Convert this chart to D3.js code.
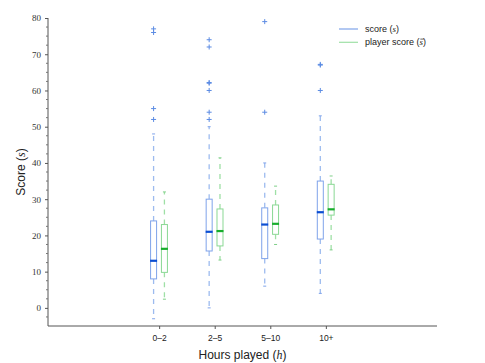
<!DOCTYPE html>
<html>
<head>
<meta charset="utf-8">
<script src="https://cdn.jsdelivr.net/npm/d3@7"></script>
<style>
  body { margin: 0; background: #fff; }
  svg { display: block; }
</style>
</head>
<body>
<div id="chart"></div>
<script>
// categories and box statistics
var categories = ["0\u20132", "2\u20135", "5\u201310", "10+"];
var catPos = [2, 3, 4, 5];

// score (s): [whiskerLow, q1, median, q3, whiskerHigh]
var scoreStats = [
  [-3, 8, 13, 24, 48],
  [0, 15.7, 21, 30, 50],
  [6, 13.6, 23, 27.6, 40],
  [4, 19, 26.4, 35, 53]
];
var scoreOutliers = [
  [77, 76, 55, 52],
  [74, 72, 62.2, 62, 60, 54, 52],
  [79, 54],
  [67.2, 67, 60]
];

// player score (s-bar)
var playerStats = [
  [2.4, 9.8, 16.3, 23, 32],
  [13.2, 17.1, 21.2, 27.3, 41.4],
  [17.5, 20.3, 23.2, 28.4, 33.6],
  [16, 25.6, 27.2, 34.1, 36.4]
];
var playerOutliers = [[], [], [], []];

var yMajorTicks = [0, 10, 20, 30, 40, 50, 60, 70, 80];

var width = 485, height = 363;
var margin = {top: 18, right: 48, bottom: 37, left: 48};
var w = width - margin.left - margin.right,
    h = height - margin.top - margin.bottom;

var svg = d3.select("#chart").append("svg")
    .attr("width", width)
    .attr("height", height);

var g = svg.append("g")
    .attr("transform", "translate(" + margin.left + "," + margin.top + ")");

var x = d3.scaleLinear().domain([0, 7]).range([0, w]);
var y = d3.scaleLinear().domain([-5, 80]).range([h, 0]);

var series = [
  {stats: scoreStats, outliers: scoreOutliers, offset: -0.1,
   box: "#7fa3ea", median: "#0b4ed2", whisker: "#9dbbef", cap: "#7fa3ea", flier: "#5b8be3"},
  {stats: playerStats, outliers: playerOutliers, offset: 0.095,
   box: "#8ad894", median: "#17ad2c", whisker: "#9fe0a6", cap: "#7fcf88", flier: "#5cc36a"}
];

var boxW = 6;

series.forEach(function(s) {
  s.stats.forEach(function(d, i) {
    var cx = x(catPos[i] + s.offset);
    var sg = g.append("g");

    // whiskers
    sg.append("line")
      .attr("x1", cx).attr("x2", cx)
      .attr("y1", y(d[3])).attr("y2", y(d[4]))
      .attr("stroke", s.whisker).attr("stroke-width", 1.3)
      .attr("stroke-dasharray", "5,5");
    sg.append("line")
      .attr("x1", cx).attr("x2", cx)
      .attr("y1", y(d[1])).attr("y2", y(d[0]))
      .attr("stroke", s.whisker).attr("stroke-width", 1.3)
      .attr("stroke-dasharray", "5,5");

    // caps
    [d[0], d[4]].forEach(function(v) {
      sg.append("line")
        .attr("x1", cx - 1.5).attr("x2", cx + 1.5)
        .attr("y1", y(v)).attr("y2", y(v))
        .attr("stroke", s.cap).attr("stroke-width", 1);
    });

    // box
    sg.append("rect")
      .attr("x", cx - boxW / 2)
      .attr("y", y(d[3]))
      .attr("width", boxW)
      .attr("height", y(d[1]) - y(d[3]))
      .attr("fill", "#fff")
      .attr("stroke", s.box).attr("stroke-width", 1);

    // median
    sg.append("line")
      .attr("x1", cx - boxW / 2 - 0.5).attr("x2", cx + boxW / 2 + 0.5)
      .attr("y1", y(d[2])).attr("y2", y(d[2]))
      .attr("stroke", s.median).attr("stroke-width", 2.2);

    // outliers as "+"
    s.outliers[i].forEach(function(v) {
      sg.append("path")
        .attr("d", "M" + (cx - 2.5) + "," + y(v) + "h5M" + cx + "," + (y(v) - 2.5) + "v5")
        .attr("stroke", s.flier).attr("stroke-width", 1).attr("fill", "none");
    });
  });
});

// y axis with minor ticks
var yAxis = d3.axisLeft(y).tickValues(yMajorTicks).tickSize(3).tickPadding(4);
var yG = g.append("g").call(yAxis);
yG.select(".domain").attr("d", "M0," + y(80) + "V" + h).attr("stroke", "#555");
yG.selectAll(".tick line").attr("stroke", "#555");
yG.selectAll("text")
  .style("font-family", "'Liberation Serif', 'DejaVu Serif', serif")
  .style("font-size", "9px")
  .attr("fill", "#333");

var minor = d3.range(-2.5, 80, 2.5).filter(function(v) { return v % 10 !== 0; });
g.append("g").selectAll("line").data(minor).enter().append("line")
  .attr("x1", -2).attr("x2", 0)
  .attr("y1", function(d) { return y(d); })
  .attr("y2", function(d) { return y(d); })
  .attr("stroke", "#777").attr("stroke-width", 1);

// x axis
var xAxis = d3.axisBottom(x).tickValues(catPos)
  .tickFormat(function(d, i) { return categories[i]; })
  .tickSize(3).tickPadding(6);
var xG = g.append("g").attr("transform", "translate(0," + h + ")").call(xAxis);
xG.select(".domain").attr("d", "M0,0H" + w).attr("stroke", "#555");
xG.selectAll(".tick line").attr("stroke", "#555");
xG.selectAll("text")
  .style("font-family", "'Liberation Sans', Arial, sans-serif")
  .style("font-size", "8.5px")
  .attr("fill", "#222");

// axis labels
var xl = svg.append("text")
  .attr("x", margin.left + w / 2)
  .attr("y", 359)
  .attr("text-anchor", "middle")
  .style("font-family", "'Liberation Sans', Arial, sans-serif")
  .style("font-size", "12px")
  .attr("fill", "#222");
xl.append("tspan").text("Hours played (");
xl.append("tspan").style("font-family", "'Liberation Serif', serif").style("font-style", "italic").text("h");
xl.append("tspan").text(")");

var yl = svg.append("text")
  .attr("transform", "translate(25," + (margin.top + h / 2) + ") rotate(-90)")
  .attr("text-anchor", "middle")
  .style("font-family", "'Liberation Sans', Arial, sans-serif")
  .style("font-size", "12px")
  .attr("fill", "#222");
yl.append("tspan").text("Score (");
yl.append("tspan").style("font-family", "'Liberation Serif', serif").style("font-style", "italic").text("s");
yl.append("tspan").text(")");

// legend
var legendItems = [
  {label: "score (", sym: "s", bar: false, color: "#7fa3ea"},
  {label: "player score (", sym: "s", bar: true, color: "#9fe0a6"}
];
var lg = svg.append("g").attr("transform", "translate(339,29)");
legendItems.forEach(function(d, i) {
  var ly = i * 13.3;
  lg.append("line")
    .attr("x1", 0).attr("x2", 19)
    .attr("y1", ly).attr("y2", ly)
    .attr("stroke", d.color).attr("stroke-width", 1.2);
  var t = lg.append("text")
    .attr("x", 26).attr("y", ly + 3)
    .style("font-family", "'Liberation Sans', Arial, sans-serif")
    .style("font-size", "9px")
    .attr("fill", "#222");
  t.append("tspan").text(d.label);
  t.append("tspan").style("font-family", "'Liberation Serif', serif").style("font-style", "italic").text(d.sym);
  t.append("tspan").text(")");
  if (d.bar) {
    // overline on the s
    var idx = d.label.length;
    var p0 = t.node().getStartPositionOfChar(idx);
    var p1 = t.node().getEndPositionOfChar(idx);
    lg.append("line")
      .attr("x1", p0.x + 0.8).attr("x2", p1.x + 0.8)
      .attr("y1", ly - 3.2).attr("y2", ly - 3.2)
      .attr("stroke", "#222").attr("stroke-width", 0.7);
  }
});
</script>
</body>
</html>
